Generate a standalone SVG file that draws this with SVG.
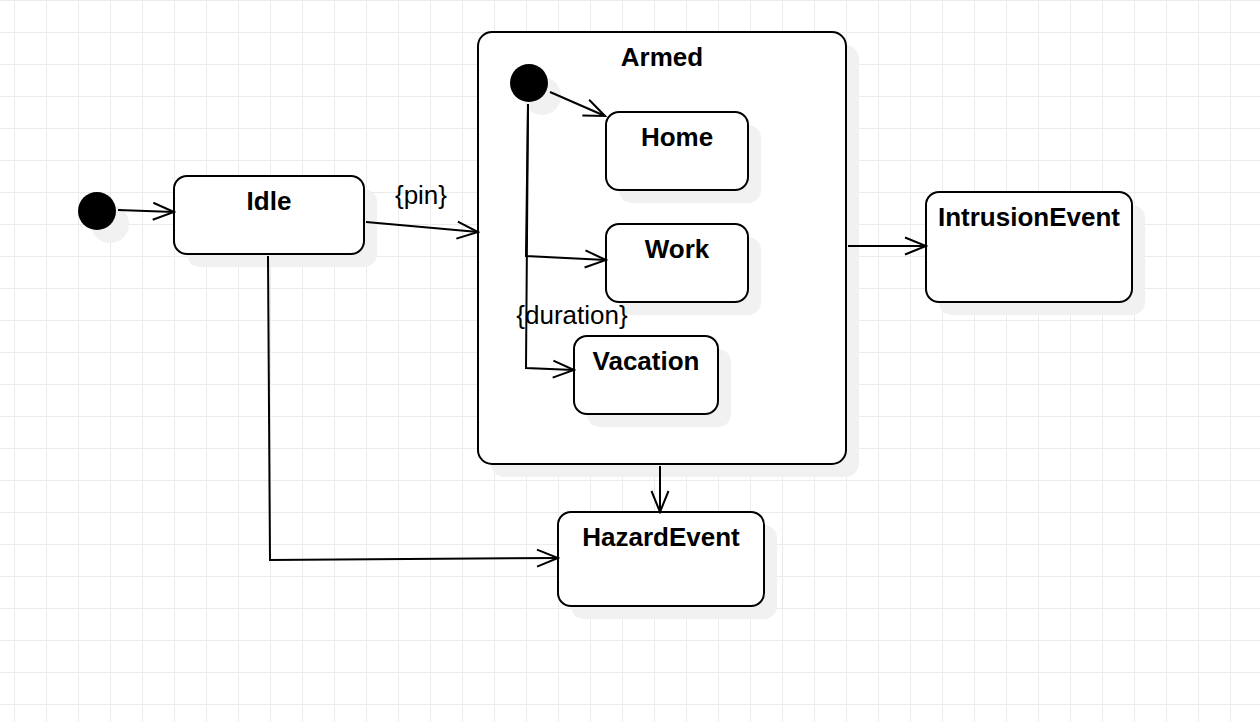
<svg xmlns="http://www.w3.org/2000/svg" width="1260" height="722" viewBox="0 0 1260 722">
<defs>
<pattern id="grid" x="14" y="0" width="32" height="32" patternUnits="userSpaceOnUse">
<path d="M0.5 0 V32 M0 0.5 H32" fill="none" stroke="#ebebeb" stroke-width="1"/>
</pattern>
<marker id="arr" viewBox="0 0 24 20" markerWidth="24" markerHeight="20" refX="22" refY="10" orient="auto" markerUnits="userSpaceOnUse">
<path d="M1 1.5 L22 10 L1 18.5" fill="none" stroke="#000" stroke-width="2"/>
</marker>
</defs>
<style>
.box{fill:#fff;stroke:#000;stroke-width:2}
.sh{fill:#f1f1f1;stroke:none}
.init{fill:#000;stroke:none}
.t{font-family:"Liberation Sans",Arial,sans-serif;font-size:26px;font-weight:bold;text-anchor:middle;fill:#000}
.lbl{font-family:"Liberation Sans",Arial,sans-serif;font-size:26px;text-anchor:middle;fill:#000}
.c{fill:none;stroke:#000;stroke-width:2;marker-end:url(#arr)}
</style>
<rect width="1260" height="722" fill="#fff"/>
<rect width="1260" height="722" fill="url(#grid)"/>

<g id="shadows">
<circle class="sh" cx="110" cy="224" r="19"/>
<rect class="sh" x="187" y="189" width="190" height="78" rx="13"/>
<rect class="sh" x="491" y="45" width="368" height="432" rx="14"/>
<rect class="sh" x="939" y="205" width="206" height="110" rx="13"/>
<rect class="sh" x="571" y="525" width="206" height="94" rx="13"/>
</g>

<g id="initial1"><circle class="init" cx="97" cy="211" r="19"/></g>
<g id="idle">
<rect class="box" x="174" y="176" width="190" height="78" rx="13"/>
<text class="t" x="269" y="210">Idle</text>
</g>
<g id="armed">
<rect class="box" x="478" y="32" width="368" height="432" rx="14"/>
<text class="t" x="662" y="66">Armed</text>
</g>
<g id="initial2">
<circle class="sh" cx="542" cy="96" r="19"/>
<circle class="init" cx="529" cy="83" r="19"/>
</g>
<g id="home">
<rect class="sh" x="619" y="125" width="142" height="78" rx="13"/>
<rect class="box" x="606" y="112" width="142" height="78" rx="13"/>
<text class="t" x="677" y="146">Home</text>
</g>
<g id="work">
<rect class="sh" x="619" y="237" width="142" height="78" rx="13"/>
<rect class="box" x="606" y="224" width="142" height="78" rx="13"/>
<text class="t" x="677" y="258">Work</text>
</g>
<g id="vacation">
<rect class="sh" x="587" y="349" width="144" height="78" rx="13"/>
<rect class="box" x="574" y="336" width="144" height="78" rx="13"/>
<text class="t" x="646" y="370">Vacation</text>
</g>
<g id="intrusion">
<rect class="box" x="926" y="192" width="206" height="110" rx="13"/>
<text class="t" x="1029" y="226">IntrusionEvent</text>
</g>
<g id="hazard">
<rect class="box" x="558" y="512" width="206" height="94" rx="13"/>
<text class="t" x="661" y="546">HazardEvent</text>
</g>

<g id="connectors">
<path class="c" d="M118 210 L174 212"/>
<path class="c" d="M366 222 L478 232"/>
<text class="lbl" x="421" y="204">{pin}</text>
<path class="c" d="M550 92 L605 116"/>
<path class="c" d="M528 104 L526 256 L606 260"/>
<path class="c" d="M528 104 L526 368 L574 370"/>
<text class="lbl" x="572" y="324">{duration}</text>
<path class="c" d="M848 246 L926 246"/>
<path class="c" d="M660 466 L660 512"/>
<path class="c" d="M268 256 L270 560 L558 558"/>
</g>
</svg>
